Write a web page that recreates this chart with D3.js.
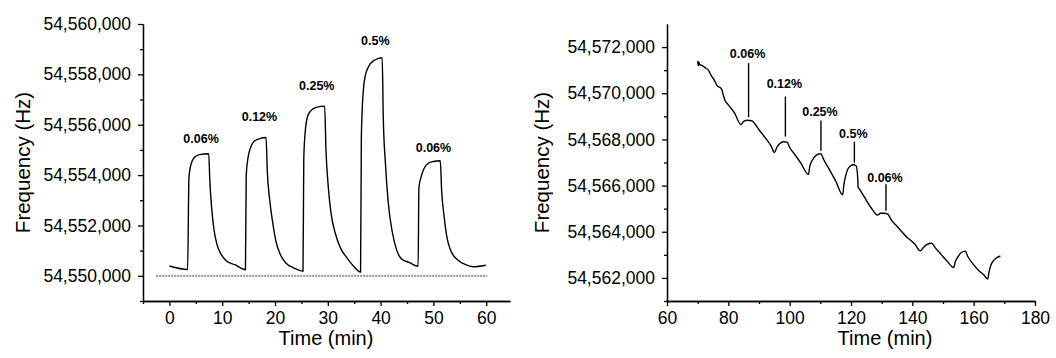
<!DOCTYPE html>
<html>
<head>
<meta charset="utf-8">
<script src="https://cdn.jsdelivr.net/npm/d3@7"></script>
<style>
  body { margin: 0; background: #fff; }
  svg { display: block; font-family: "Liberation Sans", Arial, sans-serif; }
  .axis path, .axis line { stroke: #000; stroke-width: 1.3; }
  .axis text { font-size: 17.5px; fill: #000; }
</style>
</head>
<body>
<svg id="chart" width="1056" height="358"></svg>
<script>
// left panel: step responses, [time (min), frequency (Hz)]
const leftSeries = [
  [0, 54550390], [3.45, 54550250], [3.7, 54553900], [4.0, 54554350], [4.4, 54554600], [5.0, 54554750],
  [5.7, 54554815], [7.45, 54554845], [7.65, 54553800], [8.0, 54552700], [8.4, 54551900], [9.0, 54551250],
  [9.8, 54550850], [10.7, 54550610], [12.5, 54550430], [14.4, 54550240],
  [14.55, 54554000], [14.9, 54554700], [15.3, 54555050], [16.0, 54555330], [17.0, 54555440], [18.3, 54555490],
  [18.55, 54554100], [19.0, 54553000], [19.5, 54552200], [20.2, 54551350], [21.0, 54550850], [22.1, 54550500],
  [23.5, 54550320], [25.3, 54550190],
  [25.45, 54554700], [25.8, 54555900], [26.2, 54556350], [26.9, 54556580], [28.0, 54556700], [29.4, 54556740],
  [29.65, 54555000], [30.1, 54553500], [30.6, 54552500], [31.4, 54551700], [32.4, 54551100], [33.5, 54550750],
  [34.8, 54550400], [36.2, 54550150],
  [36.35, 54555500], [36.7, 54557300], [37.1, 54557950], [37.7, 54558300], [38.8, 54558560], [40.3, 54558660],
  [40.5, 54556300], [40.9, 54554500], [41.4, 54553000], [42.2, 54551750], [43.0, 54551050], [43.9, 54550680],
  [45.5, 54550520], [47.1, 54550380],
  [47.25, 54553500], [47.7, 54553950], [48.2, 54554250], [49.0, 54554470], [50.0, 54554540], [51.3, 54554570],
  [51.55, 54553400], [52.0, 54552400], [52.5, 54551600], [53.1, 54551100], [53.5, 54550900], [54.5, 54550650],
  [56.0, 54550450], [57.5, 54550360], [59.9, 54550420]
];
const leftBaseline = [[-2.5, 54550000], [60.2, 54550000]];
// label, time, frequency (label centre)
const leftLabels = [
  ["0.06%", 6.0, 54555450],
  ["0.12%", 17.05, 54556314],
  ["0.25%", 27.9, 54557534],
  ["0.5%", 39.0, 54559324],
  ["0.06%", 50.0, 54555080]
];

// right panel: drifting signal
const rightSeries = [
  [70.0, 54571400], [70.2, 54571200], [70.4, 54571350], [70.6, 54571250], [71.5, 54571200], [72.5, 54571100],
  [73.5, 54571000], [74.5, 54570750], [75.5, 54570550], [76.5, 54570300], [77.3, 54570250], [77.9, 54570150],
  [78.4, 54569900], [78.9, 54569700], [80.0, 54569500], [82.0, 54569150], [84.1, 54568650], [85.0, 54568780],
  [86.3, 54568830], [87.7, 54568800], [88.5, 54568700], [90.0, 54568420], [92.0, 54568080], [94.0, 54567700],
  [95.0, 54567430], [95.8, 54567650], [96.8, 54567820], [98.0, 54567900], [99.2, 54567880], [100.0, 54567650],
  [101.5, 54567380], [103.7, 54566960], [106.1, 54566480], [106.6, 54566850], [107.5, 54567120], [108.7, 54567320],
  [110.2, 54567380], [111.0, 54567150], [112.4, 54566820], [115.1, 54566170], [117.3, 54565600], [117.7, 54566050],
  [118.4, 54566500], [119.5, 54566820], [120.8, 54566900], [121.7, 54566850], [122.2, 54566300], [122.3, 54565950],
  [123.0, 54565800], [124.3, 54565520], [126.5, 54565050], [128.7, 54564720], [129.6, 54564800], [130.8, 54564800],
  [132.0, 54564760], [133.2, 54564500], [134.7, 54564280], [137.9, 54563810], [140.7, 54563480], [142.6, 54563170],
  [143.5, 54563300], [144.8, 54563450], [146.3, 54563500], [147.5, 54563300], [149.3, 54563030], [151.5, 54562700],
  [153.5, 54562450], [154.0, 54562700], [154.8, 54562900], [156.0, 54563100], [157.3, 54563160], [158.0, 54562950],
  [159.7, 54562620], [161.8, 54562300], [163.2, 54562150], [164.6, 54561950], [165.0, 54562250], [165.6, 54562550],
  [166.7, 54562780], [168.7, 54562950]
];
// label, time, label centre freq, leader top freq, leader bottom freq
const rightLabels = [
  ["0.06%", 86.6, 54571696, 54571305, 54568961],
  ["0.12%", 98.6, 54570394, 54569858, 54568122],
  ["0.25%", 110.2, 54569207, 54568817, 54567514],
  ["0.5%", 121.1, 54568238, 54567905, 54566994],
  ["0.06%", 131.4, 54566342, 54566053, 54564910]
];

const xTicksLeft = [0, 10, 20, 30, 40, 50, 60];
const xTicksRight = [60, 80, 100, 120, 140, 160, 180];
const yTicksLeft = [54550000, 54552000, 54554000, 54556000, 54558000, 54560000];
const yTicksRight = [54562000, 54564000, 54566000, 54568000, 54570000, 54572000];

const svg = d3.select("#chart");
const fmt = d3.format(",");

function panel(opt) {
  const x = d3.scaleLinear().domain(opt.xDomain).range([opt.left, opt.right]);
  const y = d3.scaleLinear().domain(opt.yDomain).range([opt.bottom, opt.top]);
  const g = svg.append("g");

  // minor ticks
  const minorX = d3.range(opt.xDomain[0], opt.xDomain[1] + 1e-9, opt.xMinor).filter(v => !opt.xTicks.includes(v));
  const minorY = d3.range(opt.yDomain[0], opt.yDomain[1] + 1e-9, opt.yMinor).filter(v => !opt.yTicks.includes(v));

  g.append("g").attr("class", "axis").attr("transform", `translate(0,${opt.bottom})`)
    .call(d3.axisBottom(x).tickValues(minorX).tickSize(3).tickSizeOuter(0).tickFormat(""));
  g.append("g").attr("class", "axis").attr("transform", `translate(0,${opt.bottom})`)
    .call(d3.axisBottom(x).tickValues(opt.xTicks).tickSize(5).tickSizeOuter(0).tickPadding(6).tickFormat(d3.format("d")));
  g.append("g").attr("class", "axis").attr("transform", `translate(${opt.left},0)`)
    .call(d3.axisLeft(y).tickValues(minorY).tickSize(3).tickSizeOuter(0).tickFormat(""));
  g.append("g").attr("class", "axis").attr("transform", `translate(${opt.left},0)`)
    .call(d3.axisLeft(y).tickValues(opt.yTicks).tickSize(5).tickSizeOuter(0).tickPadding(7).tickFormat(fmt));

  g.append("text").attr("x", opt.xTitleX).attr("y", 345).attr("text-anchor", "middle")
    .style("font-size", "20px").text("Time (min)");
  g.append("text").attr("transform", `translate(${opt.yTitleX},${(opt.top + opt.bottom) / 2}) rotate(-90)`)
    .attr("text-anchor", "middle").style("font-size", "20.5px").text("Frequency (Hz)");

  return { g, x, y };
}

// ---- left panel
const L = panel({
  xDomain: [-5, 64.5], yDomain: [54549000, 54560000],
  left: 143, right: 510, top: 24, bottom: 301,
  xTicks: xTicksLeft, yTicks: yTicksLeft, xMinor: 5, yMinor: 1000,
  xTitleX: 326, yTitleX: 30
});
const lineL = d3.line().x(d => L.x(d[0])).y(d => L.y(d[1])).curve(d3.curveMonotoneX);
L.g.append("path").attr("d", d3.line().x(d => L.x(d[0])).y(d => L.y(d[1]))(leftBaseline))
  .attr("fill", "none").attr("stroke", "#9a9a9a").attr("stroke-width", 2.2).attr("stroke-dasharray", "2,1");
L.g.append("path").attr("d", lineL(leftSeries))
  .attr("fill", "none").attr("stroke", "#000").attr("stroke-width", 1.4);
L.g.selectAll(".lab").data(leftLabels).enter().append("text")
  .attr("x", d => L.x(d[1])).attr("y", d => L.y(d[2]))
  .attr("text-anchor", "middle").attr("dominant-baseline", "central")
  .style("font-size", "12.5px").style("font-weight", "bold").text(d => d[0]);

// ---- right panel
const R = panel({
  xDomain: [60, 180], yDomain: [54561000, 54573000],
  left: 667, right: 1035, top: 24, bottom: 301,
  xTicks: xTicksRight, yTicks: yTicksRight, xMinor: 10, yMinor: 1000,
  xTitleX: 885, yTitleX: 549
});
const lineR = d3.line().x(d => R.x(d[0])).y(d => R.y(d[1])).curve(d3.curveMonotoneX);
R.g.append("path").attr("d", lineR(rightSeries))
  .attr("fill", "none").attr("stroke", "#000").attr("stroke-width", 1.4);
R.g.selectAll(".lead").data(rightLabels).enter().append("line")
  .attr("x1", d => R.x(d[1])).attr("x2", d => R.x(d[1]))
  .attr("y1", d => R.y(d[3])).attr("y2", d => R.y(d[4]))
  .attr("stroke", "#000").attr("stroke-width", 1.4);
R.g.selectAll(".lab").data(rightLabels).enter().append("text")
  .attr("x", d => R.x(d[1]) - 1).attr("y", d => R.y(d[2]))
  .attr("text-anchor", "middle").attr("dominant-baseline", "central")
  .style("font-size", "12.5px").style("font-weight", "bold").text(d => d[0]);
</script>
</body>
</html>
